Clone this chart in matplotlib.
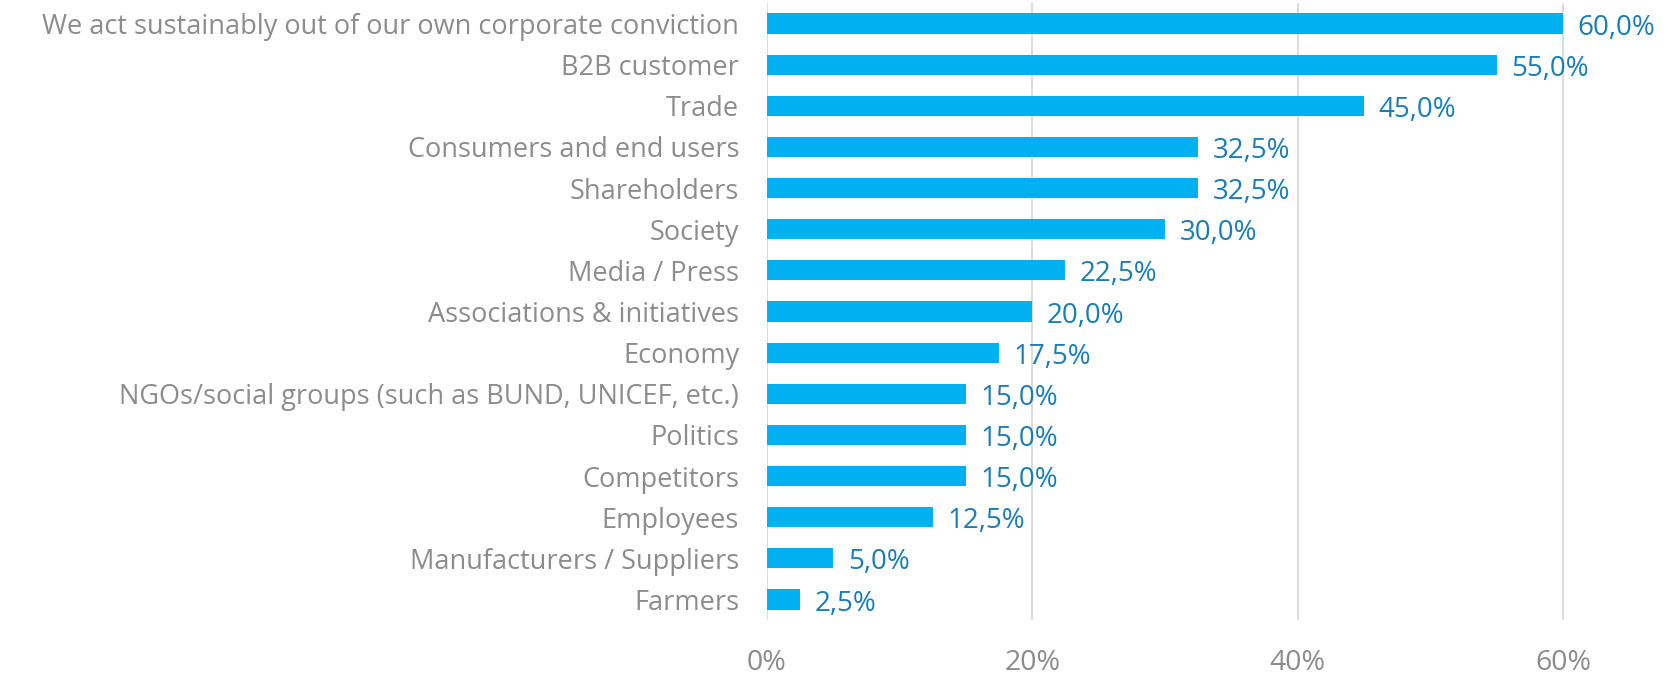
import matplotlib
matplotlib.use("Agg")
import matplotlib.pyplot as plt

# data (top to bottom)
categories = [
    "We act sustainably out of our own corporate conviction",
    "B2B customer",
    "Trade",
    "Consumers and end users",
    "Shareholders",
    "Society",
    "Media / Press",
    "Associations & initiatives",
    "Economy",
    "NGOs/social groups (such as BUND, UNICEF, etc.)",
    "Politics",
    "Competitors",
    "Employees",
    "Manufacturers / Suppliers",
    "Farmers",
]
values = [60.0, 55.0, 45.0, 32.5, 32.5, 30.0, 22.5, 20.0, 17.5, 15.0, 15.0, 15.0, 12.5, 5.0, 2.5]
xticks = [0, 20, 40, 60]

BAR = "#00b0f0"
LABEL = "#1a7db5"
GREY = "#8c8c8c"

plt.rcParams["font.family"] = ["Open Sans", "DejaVu Sans"]

fig = plt.figure(figsize=(16.81, 6.75), dpi=100)
# axes: 0% at x=767px, bars span y 3..620 px
ax = fig.add_axes([767 / 1681, 1 - 620 / 675, 900 / 1681, 617 / 675])

pos = list(range(len(categories)))
ax.barh(pos, values, height=0.49, color=BAR, zorder=3)

for y, v in zip(pos, values):
    txt = f"{v:.1f}".replace(".", ",") + "%"
    ax.text(v + 1.1, y + 0.1, txt, color=LABEL, fontsize=20,
            va="center", ha="left", zorder=4)

ax.set_ylim(len(categories) - 0.5, -0.5)
ax.set_xlim(0, 900 / 265.3 * 20)
ax.set_yticks(pos)
ax.set_yticklabels(categories, fontsize=19.5, color=GREY)
ax.set_xticks(xticks)
ax.set_xticklabels([f"{t}%" for t in xticks], fontsize=20.5, color=GREY)

ax.tick_params(axis="y", length=0, pad=20)
ax.tick_params(axis="x", length=0, pad=21)
ax.grid(axis="x", color="#d9d9d9", linewidth=1.3, zorder=0)
for s in ax.spines.values():
    s.set_visible(False)

fig.savefig("out.png", dpi=100)
